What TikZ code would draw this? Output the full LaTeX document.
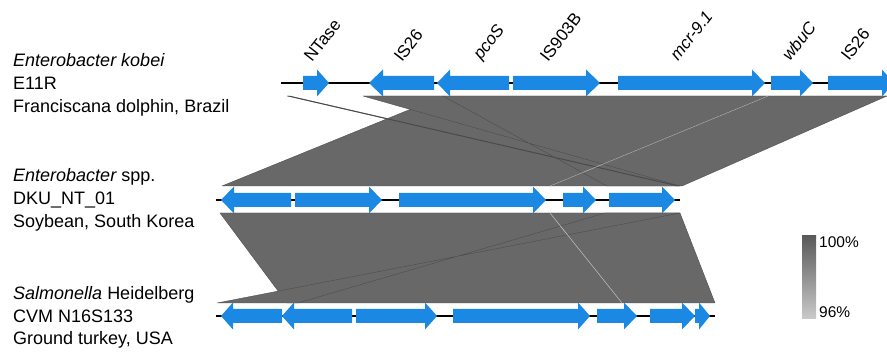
\documentclass[tikz,border=0pt]{standalone}
\usepackage{fontspec}
\setmainfont{Liberation Sans}
\definecolor{genecol}{HTML}{1B88E3}
\definecolor{blastgrey}{HTML}{686868}
\definecolor{blastedge}{HTML}{4A4A4A}
\definecolor{bartop}{HTML}{5A5A5A}
\definecolor{barbot}{HTML}{CACACA}
\newcommand\fwdgene[4]{\fill[genecol] (#2,#1-7) -- (#3,#1-7) -- (#3,#1-13.5) -- (#4,#1) -- (#3,#1+13.5) -- (#3,#1+7) -- (#2,#1+7) -- cycle;}
\newcommand\revgene[4]{\fill[genecol] (#4,#1-7) -- (#3,#1-7) -- (#3,#1-13.5) -- (#2,#1) -- (#3,#1+13.5) -- (#3,#1+7) -- (#4,#1+7) -- cycle;}
\begin{document}
\begin{tikzpicture}[x=1pt,y=-1pt,
  lab/.style={anchor=base west,inner sep=0pt,font=\fontsize{18}{21}\selectfont},
  genelab/.style={anchor=base west,inner sep=0pt,rotate=52,font=\fontsize{17}{20}\selectfont},
  barlab/.style={anchor=base west,inner sep=0pt,font=\fontsize{15.5}{18}\selectfont},
  blast/.style={fill=blastgrey,draw=blastedge,line width=0.35pt,line join=round},
  track/.style={line width=2pt,black}]
\useasboundingbox (0,0) rectangle (887,352);
% ---- BLAST blocks top-middle
\path[blast] (443,96) -- (768,96) -- (550,186) -- (222,186) -- cycle;
\path[blast] (768,96) -- (887,96) -- (682,186) -- (550,186) -- cycle;
\path[blast] (363,96) -- (443,96) -- (607,186) -- (680,186) -- cycle;
\path[blast] (287,96) -- (290,96) -- (680,186) -- (677,186) -- cycle;
\draw[white,opacity=0.55,line width=0.5pt] (550,186) -- (768,96);
% ---- BLAST blocks middle-bottom
\path[blast] (220,213) -- (550,213) -- (622,303) -- (287,303) -- cycle;
\path[blast] (550,213) -- (680,213) -- (715,303) -- (622,303) -- cycle;
\path[blast] (605,213) -- (680,213) -- (217,303) -- (298,303) -- cycle;
\draw[white,opacity=0.7,line width=0.5pt] (550,213) -- (622,303);
% ---- top track
\draw[track] (281,83) -- (890,83);
\fwdgene{83}{303}{317}{329}
\revgene{83}{369}{383}{434}
\revgene{83}{437}{450}{509}
\fwdgene{83}{513}{586}{600}
\fwdgene{83}{618}{752}{765}
\fwdgene{83}{771}{800}{813}
\fwdgene{83}{828}{882}{894}
% ---- middle track
\draw[track] (216,200) -- (680,200);
\revgene{200}{221}{234}{291}
\fwdgene{200}{295}{369}{382}
\fwdgene{200}{399}{533}{546}
\fwdgene{200}{563}{583}{596}
\fwdgene{200}{609}{662}{675}
% ---- bottom track
\draw[track] (216,316) -- (715,316);
\revgene{316}{221}{233}{282}
\revgene{316}{282}{294}{352}
\fwdgene{316}{356}{425}{437}
\fwdgene{316}{453}{578}{590}
\fwdgene{316}{597}{624}{637}
\fwdgene{316}{650}{682}{695}
\fwdgene{316}{695}{699}{710}
% ---- gene labels
\node[genelab] (gNT) at (312,63) {NTase};
\node[genelab] (gIS1) at (402,63) {IS26};
\node[genelab] (gpco) at (481,61) {\itshape pcoS};
\node[genelab] (gIS9) at (548,63) {IS903B};
\node[genelab] (gmcr) at (678,62) {\itshape mcr-9.1};
\node[genelab] (gwbu) at (790,62) {\itshape wbuC};
\node[genelab] (gIS2) at (849,62) {IS26};
% ---- strain labels
\node[lab] (s1a) at (13,67) {\itshape Enterobacter kobei};
\node[lab] (s1b) at (13,90) {E11R};
\node[lab] (s1c) at (13,112.5) {Franciscana dolphin, Brazil};
\node[lab] (s2a) at (13,182) {{\itshape Enterobacter} spp.};
\node[lab] (s2b) at (13,205) {DKU\_NT\_01};
\node[lab] (s2c) at (13,227.5) {Soybean, South Korea};
\node[lab] (s3a) at (13,300) {{\itshape Salmonella} Heidelberg};
\node[lab] (s3b) at (13,322.5) {CVM N16S133};
\node[lab] (s3c) at (13,345) {Ground turkey, USA};
% ---- colour bar
\shade[top color=bartop,bottom color=barbot] (802,236) rectangle (816,319);
\node[barlab] (b100) at (819,247.5) {100\%};
\node[barlab] (b96) at (819,317.5) {96\%};
\end{tikzpicture}
\end{document}
